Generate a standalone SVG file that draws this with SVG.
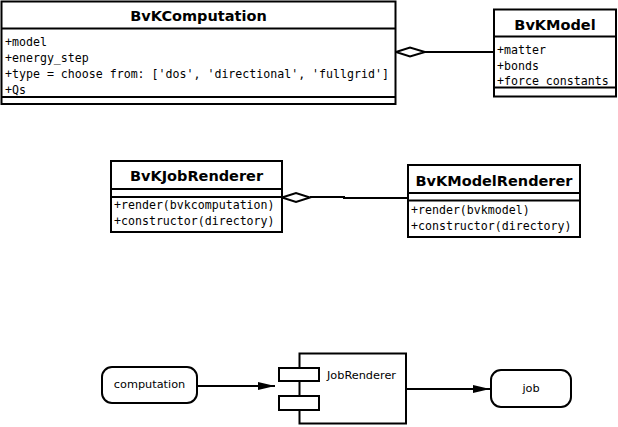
<svg xmlns="http://www.w3.org/2000/svg" width="618" height="427" viewBox="0 0 618 427">
<style>
.box{fill:#fff;stroke:#000;stroke-width:2}
.ln{fill:none;stroke:#000;stroke-width:2}
.title{font-family:"DejaVu Sans",sans-serif;font-weight:bold;font-size:14.5px;text-anchor:middle;fill:#000}
.mono{font-family:"DejaVu Sans Mono",monospace;font-size:11.6px;fill:#000}
.lbl{font-family:"DejaVu Sans",sans-serif;font-size:11.3px;fill:#000}
</style>
<defs>
<marker id="arr" markerWidth="18" markerHeight="10" refX="17" refY="4" orient="auto" markerUnits="userSpaceOnUse">
<path d="M0,0 L17,4 L0,8 Z" fill="#000"/>
</marker>
</defs>
<rect width="618" height="427" fill="#fff"/>
<g id="connectors">
<path class="ln" d="M396,52 L410,47.5 L425,52 L410,56.5 Z"/>
<line class="ln" x1="425" y1="52" x2="494" y2="52"/>
<path class="ln" d="M282,197.5 L296,193 L310,197.5 L296,202 Z"/>
<polyline class="ln" points="310,197 344,197 344,198 408,198"/>
<line class="ln" x1="197" y1="386" x2="275" y2="386" marker-end="url(#arr)"/>
<line class="ln" x1="406" y1="389" x2="490" y2="389" marker-end="url(#arr)"/>
</g>
<g id="BvKComputation">
<rect class="box" x="1.5" y="1.5" width="394" height="102.5"/>
<line class="ln" x1="1.5" y1="28.5" x2="395.5" y2="28.5"/>
<line class="ln" x1="1.5" y1="97" x2="395.5" y2="97"/>
<text class="title" x="198.5" y="21">BvKComputation</text>
<text class="mono" x="5" y="46">+model</text>
<text class="mono" x="5" y="62">+energy_step</text>
<text class="mono" x="5" y="78">+type = choose from: ['dos', 'directional', 'fullgrid']</text>
<text class="mono" x="5" y="93.5">+Qs</text>
</g>
<g id="BvKModel">
<rect class="box" x="494" y="9.5" width="122" height="87"/>
<line class="ln" x1="494" y1="36.5" x2="616" y2="36.5"/>
<text class="title" x="555" y="30">BvKModel</text>
<text class="mono" x="497" y="54">+matter</text>
<text class="mono" x="497" y="70">+bonds</text>
<text class="mono" x="497" y="84.8">+force_constants</text>
<line class="ln" x1="494" y1="87.5" x2="616" y2="87.5"/>
</g>
<g id="BvKJobRenderer">
<rect class="box" x="111" y="161" width="171" height="71"/>
<line class="ln" x1="111" y1="189" x2="282" y2="189"/>
<line class="ln" x1="111" y1="197" x2="282" y2="197"/>
<text class="title" x="196.5" y="181">BvKJobRenderer</text>
<text class="mono" x="114" y="209">+render(bvkcomputation)</text>
<text class="mono" x="114" y="224.5">+constructor(directory)</text>
</g>
<g id="BvKModelRenderer">
<rect class="box" x="408" y="165" width="172" height="72"/>
<line class="ln" x1="408" y1="193" x2="580" y2="193"/>
<line class="ln" x1="408" y1="200.5" x2="580" y2="200.5"/>
<text class="title" x="494" y="186">BvKModelRenderer</text>
<text class="mono" x="411" y="214">+render(bvkmodel)</text>
<text class="mono" x="411" y="229.5">+constructor(directory)</text>
</g>
<g id="computation">
<rect class="box" x="102" y="367" width="95" height="36" rx="10" ry="10"/>
<text class="lbl" x="149.5" y="388" text-anchor="middle">computation</text>
</g>
<g id="JobRenderer">
<rect class="box" x="299.5" y="353.5" width="106.5" height="70"/>
<rect class="box" x="279" y="368" width="40" height="13"/>
<rect class="box" x="279" y="396" width="40" height="14"/>
<text class="lbl" x="327" y="379">JobRenderer</text>
</g>
<g id="job">
<rect class="box" x="491" y="370" width="80" height="37" rx="10" ry="10"/>
<text class="lbl" x="531" y="392" text-anchor="middle">job</text>
</g>
</svg>
